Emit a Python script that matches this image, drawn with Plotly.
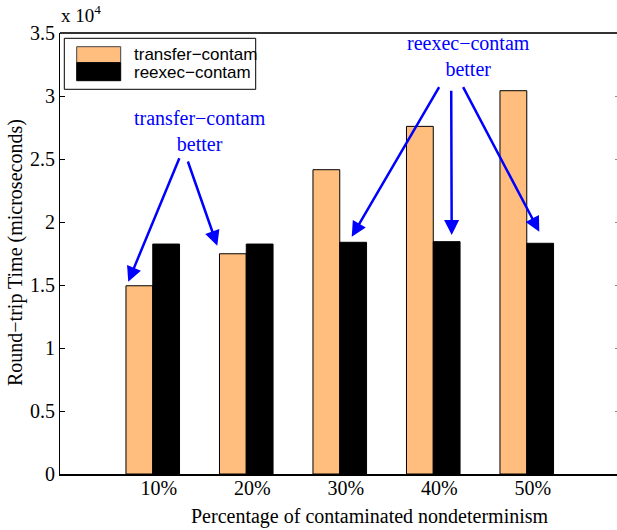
import plotly.graph_objects as go

categories = ["10%", "20%", "30%", "40%", "50%"]
series_names = ["transfer−contam", "reexec−contam"]
transfer_contam = [14940, 17480, 24150, 27590, 30420]
reexec_contam = [18250, 18250, 18390, 18440, 18310]
y_ticks = [0, 5000, 10000, 15000, 20000, 25000, 30000, 35000]
y_tick_labels = ["0", "0.5", "1", "1.5", "2", "2.5", "3", "3.5"]

W, H = 617, 530
L, R, T, B = 60, 617, 33, 474
ORANGE = "#FFBE7D"
SERIF = "Liberation Serif"
SANS = "Liberation Sans"
BLUE = "#0000FF"

def px(x):
    return (x - L) / (R - L)

def py(y):
    return (B - y) / (B - T)

xpos = list(range(1, len(categories) + 1))

fig = go.Figure()
fig.add_trace(go.Bar(x=xpos, y=transfer_contam, name=series_names[0],
                     marker=dict(color=ORANGE, line=dict(color="black", width=1)),
                     showlegend=False))
fig.add_trace(go.Bar(x=xpos, y=reexec_contam, name=series_names[1],
                     marker=dict(color="black", line=dict(color="black", width=1)),
                     showlegend=False))
# invisible trace for right-side ticks
fig.add_trace(go.Scatter(x=[None], y=[None], yaxis="y2", showlegend=False))

shapes = []
# top border
shapes.append(dict(type="line", xref="paper", yref="paper", x0=0, x1=1, y0=1, y1=1,
                   line=dict(color="#333333", width=2)))
# legend box
shapes.append(dict(type="rect", xref="paper", yref="paper",
                   x0=px(64.3), x1=px(255.7), y0=py(89.3), y1=py(38.3),
                   line=dict(color="black", width=1), fillcolor="white"))
shapes.append(dict(type="rect", xref="paper", yref="paper",
                   x0=px(76.7), x1=px(120.7), y0=py(62.7), y1=py(46.7),
                   line=dict(color="#444444", width=1), fillcolor=ORANGE))
shapes.append(dict(type="rect", xref="paper", yref="paper",
                   x0=px(76.7), x1=px(120.7), y0=py(80.7), y1=py(62.7),
                   line=dict(color="black", width=1), fillcolor="black"))

annotations = []
annotations.append(dict(xref="paper", yref="paper", x=px(132), y=py(55), text=series_names[0],
                        showarrow=False, xanchor="left", yanchor="middle",
                        font=dict(family=SANS, size=17, color="black")))
annotations.append(dict(xref="paper", yref="paper", x=px(132), y=py(72), text=series_names[1],
                        showarrow=False, xanchor="left", yanchor="middle",
                        font=dict(family=SANS, size=17, color="black")))
# x 10^4
annotations.append(dict(xref="paper", yref="paper", x=px(59), y=py(28), text="x 10<sup>4</sup>",
                        showarrow=False, xanchor="left", yanchor="bottom",
                        font=dict(family=SERIF, size=19, color="black")))
# axis titles
annotations.append(dict(xref="paper", yref="paper", x=px(370), y=py(516),
                        text="Percentage of contaminated nondeterminism",
                        showarrow=False, xanchor="center", yanchor="middle",
                        font=dict(family=SERIF, size=20, color="black")))
annotations.append(dict(xref="paper", yref="paper", x=px(15), y=py(253),
                        text="Round−trip Time (microseconds)", textangle=-90,
                        showarrow=False, xanchor="center", yanchor="middle",
                        font=dict(family=SERIF, size=20, color="black")))
# callout texts
annotations.append(dict(xref="x", yref="y", x=1.505, y=27200, text="transfer−contam<br>better",
                        showarrow=False, xanchor="center", yanchor="middle",
                        font=dict(family=SERIF, size=20, color=BLUE)))
annotations.append(dict(xref="x", yref="y", x=4.372, y=33180, text="reexec−contam<br>better",
                        showarrow=False, xanchor="center", yanchor="middle",
                        font=dict(family=SERIF, size=20, color=BLUE)))
# arrows: (tip_x, tip_y, tail_x, tail_y)
arrows = [
    (0.738, 15260, 1.291, 25180),
    (1.690, 18120, 1.370, 24920),
    (3.128, 18830, 4.072, 30820),
    (4.197, 18970, 4.192, 30530),
    (5.134, 19230, 4.311, 30820),
]
for tx, ty, sx, sy in arrows:
    annotations.append(dict(xref="x", yref="y", x=tx, y=ty, axref="x", ayref="y", ax=sx, ay=sy,
                            text="", showarrow=True, arrowhead=2, arrowsize=1.2,
                            arrowwidth=2.5, arrowcolor=BLUE, standoff=0, startstandoff=0))

fig.update_layout(
    width=W, height=H,
    margin=dict(l=L, r=W - R, t=T, b=H - B, pad=0, autoexpand=False),
    paper_bgcolor="white", plot_bgcolor="white",
    barmode="group", bargap=0.427, bargroupgap=0,
    showlegend=False,
    xaxis=dict(range=[0.008, 5.965], tickvals=xpos, ticktext=categories,
               showgrid=False, zeroline=False, showline=True, linecolor="black", linewidth=2,
               ticks="", ticklabelshift=6, ticklabelstandoff=-5, automargin=False,
               tickfont=dict(family=SERIF, size=20, color="black")),
    yaxis=dict(range=[0, 35000], tickvals=y_ticks, ticktext=y_tick_labels,
               showgrid=False, zeroline=False, showline=True, linecolor="black", linewidth=1,
               ticks="inside", ticklen=5, tickcolor="black", tickwidth=1,
               ticklabelstandoff=0, automargin=False,
               tickfont=dict(family=SERIF, size=20, color="black")),
    yaxis2=dict(range=[0, 35000], tickvals=y_ticks, overlaying="y", side="right",
                showgrid=False, zeroline=False, showline=False, showticklabels=False,
                ticks="inside", ticklen=2, tickcolor="#888888", tickwidth=1, automargin=False),
    shapes=shapes,
    annotations=annotations,
)

fig.write_html("out.html", config={"displayModeBar": False},
               post_script="document.body.style.margin='0';document.body.style.overflow='hidden';")
